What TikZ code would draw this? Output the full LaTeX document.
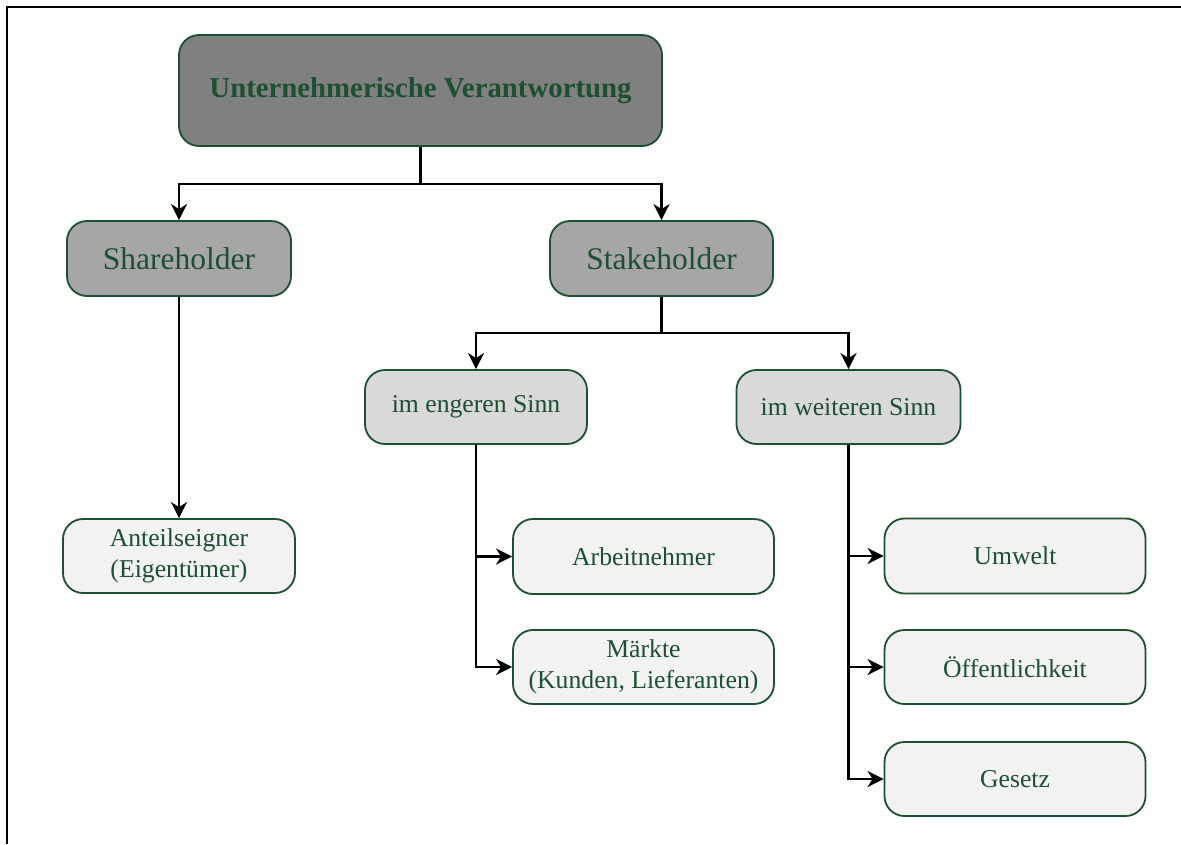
\documentclass[tikz,border=0pt]{standalone}
\usepackage{fontspec}
\setmainfont{Liberation Serif}
\usetikzlibrary{arrows.meta}
\definecolor{boxgreen}{RGB}{28,80,48}
\definecolor{lvlA}{RGB}{128,128,128}
\definecolor{lvlB}{RGB}{166,166,166}
\definecolor{lvlC}{RGB}{217,217,217}
\definecolor{lvlD}{RGB}{242,242,242}
\tikzset{
  box/.style={rectangle, rounded corners=20pt, draw=boxgreen, line width=1.8pt,
    text=boxgreen, align=center, inner sep=0pt},
  small/.style={font=\fontsize{25.7}{31}\selectfont},
  conn/.style={draw=black, line width=2.8pt},
  arr/.style={conn, -{Stealth[length=16pt,width=16pt,inset=5pt]}},
}
\begin{document}
\begin{tikzpicture}[x=1pt,y=-1pt]
\useasboundingbox (0,0) rectangle (1181,844);
% partial frame
\draw[line width=2pt] (7,844) -- (7,7) -- (1181,7);

% boxes
\node[box, fill=lvlA, minimum width=483pt, minimum height=111pt,
      font=\fontsize{28.8}{34}\selectfont\bfseries] (top) at (420.5,90.5) {Unternehmerische Verantwortung};
\node[box, fill=lvlB, minimum width=224pt, minimum height=75pt,
      font=\fontsize{31.5}{36}\selectfont] (share) at (179,258.5) {Shareholder};
\node[box, fill=lvlB, minimum width=223pt, minimum height=75pt,
      font=\fontsize{31.5}{36}\selectfont] (stake) at (661.5,258.5) {Stakeholder};
\node[box, small, fill=lvlC, minimum width=222pt, minimum height=74pt] (eng) at (476,407) {im engeren Sinn};
\node[box, small, fill=lvlC, minimum width=224pt, minimum height=74pt] (wei) at (848.5,407) {im weiteren Sinn};
\node[box, small, fill=lvlD, minimum width=232pt, minimum height=74pt] (ant) at (179,556) {Anteilseigner\\(Eigentümer)};
\node[box, small, fill=lvlD, minimum width=261pt, minimum height=75pt] (arb) at (643.5,556.5) {Arbeitnehmer};
\node[box, small, fill=lvlD, minimum width=261pt, minimum height=74pt] (mar) at (643.5,667) {Märkte\\(Kunden, Lieferanten)};
\node[box, small, fill=lvlD, minimum width=261pt, minimum height=75pt] (umw) at (1015,556) {Umwelt};
\node[box, small, fill=lvlD, minimum width=261pt, minimum height=74pt] (oef) at (1015,667) {Öffentlichkeit};
\node[box, small, fill=lvlD, minimum width=261pt, minimum height=74pt] (ges) at (1015,779) {Gesetz};

% junction points
\coordinate (j1) at (top.south |- 0,184);
\coordinate (j2) at (stake.south |- 0,333);

% connectors
\draw[conn] (top.south) -- (j1);
\draw[arr] (j1) -| (share.north);
\draw[arr] (j1) -| (stake.north);
\draw[conn] (stake.south) -- (j2);
\draw[arr] (j2) -| (eng.north);
\draw[arr] (j2) -| (wei.north);
\draw[arr] (share.south) -- (ant.north);
\draw[arr] (eng.south) |- (arb.west);
\draw[arr] (eng.south) |- (mar.west);
\draw[arr] (wei.south) |- (umw.west);
\draw[arr] (wei.south) |- (oef.west);
\draw[arr] (wei.south) |- (ges.west);
\end{tikzpicture}
\end{document}
